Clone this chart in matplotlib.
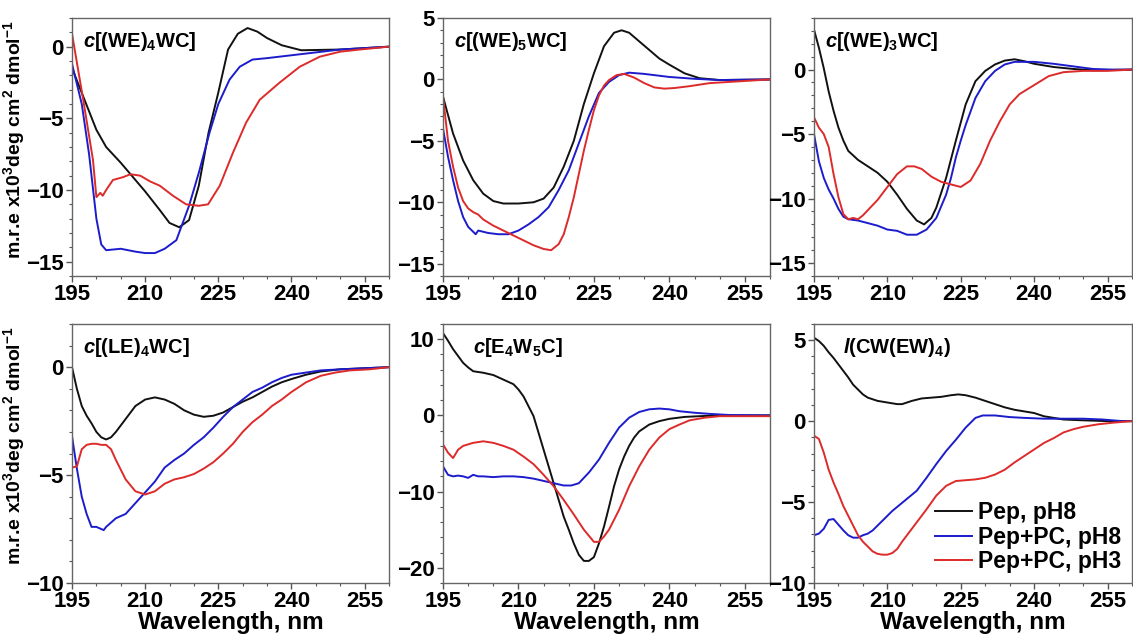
import matplotlib
matplotlib.use("Agg")
import matplotlib.pyplot as plt
from matplotlib.ticker import MultipleLocator, AutoMinorLocator

plt.rcParams['font.family'] = ['Liberation Sans', 'DejaVu Sans']
plt.rcParams['font.weight'] = 'bold'
plt.rcParams['mathtext.fontset'] = 'custom'
plt.rcParams['mathtext.rm'] = 'Liberation Sans:bold'
plt.rcParams['mathtext.it'] = 'Liberation Sans:bold:italic'
plt.rcParams['mathtext.bf'] = 'Liberation Sans:bold'

series_labels = ["Pep, pH8", "Pep+PC, pH8", "Pep+PC, pH3"]
series_colors = ["#111111", "#1c1ccc", "#dd2a2a"]

titles = [r"$\it{c}$[(WE)$_4$WC]", r"$\it{c}$[(WE)$_5$WC]", r"$\it{c}$[(WE)$_3$WC]",
          r"$\it{c}$[(LE)$_4$WC]", r"$\it{c}$[E$_4$W$_5$C]", r"$\it{l}$(CW(EW)$_4$)"]

# ---- panel 1: c[(WE)4WC]
p1_black_x = [195, 200, 202, 205, 208, 210, 213, 215, 217, 219, 221, 223, 225, 227, 229, 231, 233, 235, 238, 242, 250, 260]
p1_black_y = [-1.5, -5.8, -7.0, -8.1, -9.3, -10.1, -11.4, -12.3, -12.6, -12.1, -9.7, -6.0, -3.2, -0.2, 0.9, 1.3, 1.05, 0.6, 0.1, -0.25, -0.2, 0.0]
p1_blue_x = [195, 197, 198.5, 200, 201, 202, 205, 208, 210, 212, 214, 216.4, 219, 221, 223.2, 225, 227.3, 229.4, 232, 235, 240, 245, 250, 260]
p1_blue_y = [-1.2, -4.0, -7.5, -12.0, -13.8, -14.2, -14.1, -14.3, -14.4, -14.4, -14.1, -13.5, -11.1, -8.8, -6.0, -4.0, -2.3, -1.4, -0.9, -0.8, -0.6, -0.4, -0.2, 0.0]
p1_red_x = [195, 197.3, 199.3, 200, 200.8, 201.3, 202, 203.4, 205.5, 207, 209, 211, 213, 215.7, 218.4, 221, 222.9, 225.3, 228, 230.7, 233.5, 237.6, 241.7, 245.8, 250, 254, 260]
p1_red_y = [0.9, -3.7, -7.9, -10.5, -10.2, -10.4, -10.0, -9.3, -9.1, -8.9, -9.0, -9.4, -9.7, -10.4, -11.0, -11.1, -11.0, -9.7, -7.4, -5.3, -3.7, -2.5, -1.4, -0.7, -0.35, -0.2, 0.0]

# ---- panel 2: c[(WE)5WC]
p2_black_x = [195, 197, 199, 201, 203, 205, 207, 210, 213, 215, 217, 219, 221, 223, 225, 227, 229, 230.5, 232, 234, 236, 238, 240, 243, 246, 250, 260]
p2_black_y = [-1.4, -4.4, -6.6, -8.2, -9.3, -9.9, -10.1, -10.1, -10.0, -9.7, -8.8, -7.1, -5.0, -2.0, 0.5, 2.7, 3.8, 4.0, 3.8, 3.1, 2.4, 1.7, 1.2, 0.5, 0.1, -0.05, 0.0]
p2_blue_x = [195, 196, 197, 198, 199, 200, 201.5, 202, 204, 206, 208, 210, 212, 214, 216, 218, 220, 222, 224, 226, 228, 230, 232, 235, 240, 245, 250, 260]
p2_blue_y = [-4.0, -6.3, -8.2, -9.9, -11.2, -12.0, -12.6, -12.3, -12.5, -12.6, -12.6, -12.3, -11.8, -11.2, -10.4, -9.0, -7.4, -5.2, -3.0, -1.1, -0.2, 0.35, 0.55, 0.45, 0.2, 0.05, -0.05, 0.0]
p2_red_x = [195, 196, 197, 198, 199, 200, 201, 202, 203, 205, 207, 209, 211, 213, 215, 216.5, 218, 219, 220, 221, 222, 223, 224, 225, 226, 227, 228, 229.5, 231, 233, 235, 237, 239, 241, 244, 248, 252, 256, 260]
p2_red_y = [-1.4, -5.0, -7.1, -8.8, -9.9, -10.5, -10.8, -11.0, -11.4, -11.9, -12.3, -12.7, -13.1, -13.5, -13.8, -13.9, -13.4, -12.6, -11.2, -9.6, -7.7, -5.8, -4.1, -2.5, -1.3, -0.5, -0.05, 0.35, 0.45, 0.15, -0.3, -0.65, -0.75, -0.7, -0.55, -0.3, -0.2, -0.1, 0.0]

# ---- panel 3: c[(WE)3WC]
p3_black_x = [195, 196, 197, 198, 199, 200, 201, 202, 204, 206, 208, 210, 212, 214, 216, 217.5, 219, 220, 222, 224, 226, 228, 230, 232, 234, 236, 238, 240, 244, 248, 252, 260]
p3_black_y = [3.1, 1.7, 0.1, -1.7, -3.2, -4.5, -5.5, -6.3, -7.0, -7.5, -8.0, -8.7, -9.7, -10.8, -11.7, -12.0, -11.5, -10.7, -8.4, -5.5, -2.7, -0.9, -0.1, 0.4, 0.7, 0.8, 0.65, 0.45, 0.2, 0.05, -0.05, 0.0]
p3_blue_x = [195, 196, 197, 198, 199, 200, 201, 202, 204, 206, 208, 210, 212, 214, 216, 218, 220, 222, 223, 224, 225, 226, 228, 230, 232, 234, 236, 240, 244, 248, 252, 256, 260]
p3_blue_y = [-5.0, -7.1, -8.4, -9.3, -10.0, -10.8, -11.4, -11.6, -11.7, -11.9, -12.1, -12.4, -12.5, -12.8, -12.8, -12.4, -11.5, -9.7, -8.4, -6.8, -5.5, -4.3, -2.2, -0.9, -0.1, 0.4, 0.6, 0.6, 0.45, 0.25, 0.05, 0.0, 0.0]
p3_red_x = [195, 196, 197, 198, 199, 200, 201, 202, 203, 204, 205, 206, 208, 210, 212, 214, 215.5, 217, 219, 221, 223, 225, 227, 229, 231, 233, 235, 237, 240, 243, 246, 250, 255, 260]
p3_red_y = [-3.7, -4.5, -5.0, -6.0, -8.1, -9.9, -11.2, -11.6, -11.5, -11.6, -11.3, -10.9, -10.1, -9.1, -8.1, -7.5, -7.5, -7.7, -8.3, -8.7, -8.9, -9.1, -8.6, -7.3, -5.5, -4.0, -2.7, -1.9, -1.2, -0.5, -0.2, -0.1, -0.1, 0.0]

# ---- panel 4: c[(LE)4WC]
p4_black_x = [195, 196, 197, 198, 199, 200, 201, 202, 203, 204, 206, 208, 210, 212, 214, 216, 218, 220, 222, 224, 226, 228, 230, 232, 234, 236, 238, 240, 243, 246, 250, 255, 260]
p4_black_y = [0.0, -1.0, -1.8, -2.25, -2.6, -3.0, -3.25, -3.35, -3.25, -3.0, -2.4, -1.8, -1.5, -1.4, -1.5, -1.7, -2.0, -2.2, -2.3, -2.25, -2.1, -1.85, -1.6, -1.4, -1.15, -0.9, -0.7, -0.55, -0.35, -0.2, -0.1, -0.05, 0.0]
p4_blue_x = [195, 196, 197, 198, 199, 200, 201, 201.5, 202, 203, 204, 205, 206, 208, 210, 212, 214, 216, 218, 220, 222, 224, 226, 228, 230, 232, 234, 236, 238, 240, 243, 246, 250, 260]
p4_blue_y = [-3.2, -4.7, -6.0, -6.8, -7.4, -7.4, -7.5, -7.55, -7.4, -7.2, -7.0, -6.9, -6.8, -6.3, -5.8, -5.3, -4.65, -4.3, -4.0, -3.6, -3.25, -2.8, -2.3, -1.85, -1.5, -1.15, -0.95, -0.7, -0.5, -0.35, -0.25, -0.15, -0.1, 0.0]
p4_red_x = [195, 196, 197, 198, 199, 200, 201, 202, 203, 204, 206, 208, 210, 212, 214, 216, 218, 220, 222, 224, 226, 228, 230, 232, 234, 236, 238, 240, 243, 246, 249, 252, 256, 260]
p4_red_y = [-4.65, -4.6, -3.8, -3.6, -3.55, -3.55, -3.6, -3.6, -3.8, -4.3, -5.2, -5.75, -5.9, -5.75, -5.4, -5.2, -5.1, -4.95, -4.7, -4.4, -4.0, -3.55, -3.0, -2.55, -2.2, -1.8, -1.5, -1.15, -0.7, -0.4, -0.25, -0.15, -0.1, 0.0]

# ---- panel 5: c[E4W5C]
p5_black_x = [195, 196, 197, 198, 199, 200, 201, 203, 205, 207, 209, 210, 211, 212, 213, 214, 215, 216, 217, 218, 219, 220, 221, 222, 223, 224, 225, 226, 227, 228, 229, 230, 231, 232, 233, 234, 236, 238, 240, 243, 246, 250, 260]
p5_black_y = [10.8, 9.8, 8.7, 7.8, 6.9, 6.3, 5.8, 5.6, 5.3, 4.7, 4.1, 3.4, 2.5, 1.2, -0.1, -2.3, -4.5, -6.7, -8.9, -11.1, -13.3, -15.0, -16.8, -18.3, -19.1, -19.1, -18.6, -16.8, -14.6, -12.0, -9.3, -7.1, -5.4, -4.0, -2.9, -2.1, -1.2, -0.75, -0.45, -0.2, -0.1, 0.0, 0.0]
p5_blue_x = [195, 196, 197, 198, 199, 200, 201, 202, 203, 205, 207, 209, 211, 213, 215, 217, 219, 220.5, 222, 224, 226, 228, 230, 232, 234, 236, 238, 240, 242, 245, 248, 252, 260]
p5_blue_y = [-6.7, -7.8, -8.0, -7.9, -8.0, -8.2, -7.8, -8.0, -8.0, -8.1, -8.0, -8.0, -8.1, -8.3, -8.6, -8.9, -9.2, -9.2, -8.9, -7.5, -5.8, -3.6, -1.6, -0.3, 0.45, 0.8, 0.9, 0.8, 0.55, 0.35, 0.2, 0.05, 0.0]
p5_red_x = [195, 196, 197, 198, 199, 201, 203, 205, 207, 209, 211, 213, 215, 217, 219, 221, 223, 225, 226, 227, 228, 230, 232, 234, 236, 238, 240, 242, 244, 247, 250, 255, 260]
p5_red_y = [-3.8, -4.9, -5.6, -4.5, -4.0, -3.6, -3.4, -3.6, -4.0, -4.5, -5.4, -6.4, -7.8, -9.3, -11.1, -13.0, -15.0, -16.6, -16.6, -15.9, -15.0, -12.4, -9.3, -6.7, -4.5, -2.9, -1.8, -1.2, -0.65, -0.3, -0.1, -0.1, -0.1]

# ---- panel 6: l(CW(EW)4)
p6_black_x = [195, 196, 197, 198, 199, 200, 201, 202, 203, 204, 205, 206, 208, 210, 212, 213, 215, 217, 219, 221, 223, 224.5, 226, 228, 230, 232, 234, 236, 238, 240, 242, 244, 246, 250, 255, 260]
p6_black_y = [5.15, 4.95, 4.65, 4.25, 3.9, 3.5, 3.1, 2.7, 2.25, 1.95, 1.65, 1.45, 1.25, 1.15, 1.05, 1.05, 1.25, 1.4, 1.45, 1.5, 1.6, 1.65, 1.6, 1.45, 1.25, 1.05, 0.85, 0.7, 0.6, 0.5, 0.3, 0.2, 0.1, 0.05, 0.0, 0.0]
p6_blue_x = [195, 196, 197, 198, 199, 200, 201, 202, 203, 204, 205, 206, 207, 208, 209, 210, 211, 212, 214, 216, 218, 220, 222, 224, 226, 227, 228, 229.5, 232, 235, 238, 242, 246, 250, 254, 258, 260]
p6_blue_y = [-7.05, -6.95, -6.65, -6.1, -6.05, -6.4, -6.75, -7.05, -7.2, -7.2, -7.05, -6.95, -6.75, -6.45, -6.15, -5.85, -5.55, -5.3, -4.8, -4.3, -3.5, -2.65, -1.85, -1.15, -0.4, -0.1, 0.2, 0.35, 0.35, 0.25, 0.2, 0.15, 0.15, 0.15, 0.1, 0.0, 0.0]
p6_red_x = [195, 196, 197, 198, 199, 200, 201, 202, 203, 204, 205, 206, 207, 208, 209, 210, 211, 212, 213, 214, 216, 218, 220, 222, 224, 226, 228, 230, 232, 234, 236, 238, 240, 242, 244, 246, 248, 250, 253, 256, 260]
p6_red_y = [-0.9, -1.1, -1.95, -3.0, -3.8, -4.5, -5.25, -5.85, -6.45, -7.05, -7.45, -7.75, -8.05, -8.2, -8.25, -8.25, -8.15, -7.9, -7.45, -7.05, -6.25, -5.45, -4.6, -4.0, -3.7, -3.65, -3.6, -3.5, -3.3, -3.0, -2.55, -2.15, -1.75, -1.35, -1.05, -0.7, -0.5, -0.35, -0.2, -0.1, 0.0]

panels = [
    [(p1_black_x, p1_black_y), (p1_blue_x, p1_blue_y), (p1_red_x, p1_red_y)],
    [(p2_black_x, p2_black_y), (p2_blue_x, p2_blue_y), (p2_red_x, p2_red_y)],
    [(p3_black_x, p3_black_y), (p3_blue_x, p3_blue_y), (p3_red_x, p3_red_y)],
    [(p4_black_x, p4_black_y), (p4_blue_x, p4_blue_y), (p4_red_x, p4_red_y)],
    [(p5_black_x, p5_black_y), (p5_blue_x, p5_blue_y), (p5_red_x, p5_red_y)],
    [(p6_black_x, p6_black_y), (p6_blue_x, p6_blue_y), (p6_red_x, p6_red_y)],
]

ylims = [(-16, 2), (-16, 5), (-16, 4), (-10, 2), (-22, 12), (-10, 6)]
ymajor = [5, 5, 5, 5, 10, 5]
xticks = [195, 210, 225, 240, 255]
title_x = [0.035, 0.035, 0.035, 0.035, 0.092, 0.09]

W, H = 1133, 637
fig = plt.figure(figsize=(W / 100, H / 100), dpi=100)

cols = [(72, 389), (443, 770), (814, 1132)]
rows = [(18, 276), (324, 583)]

axes = []
for i in range(6):
    r, c = divmod(i, 3)
    x0, x1 = cols[c]
    y0, y1 = rows[r]
    ax = fig.add_axes([x0 / W, 1 - y1 / H, (x1 - x0) / W, (y1 - y0) / H])
    axes.append(ax)
    for (xs, ys), col, lab in zip(panels[i], series_colors, series_labels):
        ax.plot(xs, ys, color=col, lw=1.4, label=lab)
    ax.set_xlim(195, 260)
    ax.set_ylim(*ylims[i])
    ax.set_xticks(xticks)
    ax.xaxis.set_minor_locator(MultipleLocator(5))
    ax.yaxis.set_major_locator(MultipleLocator(ymajor[i]))
    ax.yaxis.set_minor_locator(AutoMinorLocator(5))
    ax.tick_params(which='major', direction='out', length=4, width=1.0, color='#555555',
                   labelsize=16, pad=2)
    ax.tick_params(axis='y', which='major', pad=2)
    ax.tick_params(which='minor', direction='out', length=2.5, width=0.8, color='#555555')
    for lab in ax.get_xticklabels() + ax.get_yticklabels():
        lab.set_fontweight('bold')
    for sp in ax.spines.values():
        sp.set_color('#666666')
        sp.set_linewidth(1.0)
    ax.text(title_x[i], 0.955, titles[i], transform=ax.transAxes, fontsize=14.5,
            fontweight='bold', va='top', ha='left')
    if r == 1:
        ax.set_xlabel("Wavelength, nm", fontsize=17.5, fontweight='bold', labelpad=-1)

ylab = "m.r.e x10$^3$deg cm$^2$ dmol$^{-1}$"
for r, (y0, y1) in enumerate(rows):
    fig.text(14 / W, 1 - (y0 + y1) / 2 / H + 0.012, ylab, rotation=90, ha='center', va='center',
             fontsize=14, fontweight='bold')

leg = axes[5].legend(loc='lower right', frameon=False, fontsize=16.5, handlelength=1.6,
                     handletextpad=0.3, labelspacing=0.05, borderaxespad=0.05)
for t in leg.get_texts():
    t.set_fontweight('bold')

fig.savefig("out.png", dpi=100)
